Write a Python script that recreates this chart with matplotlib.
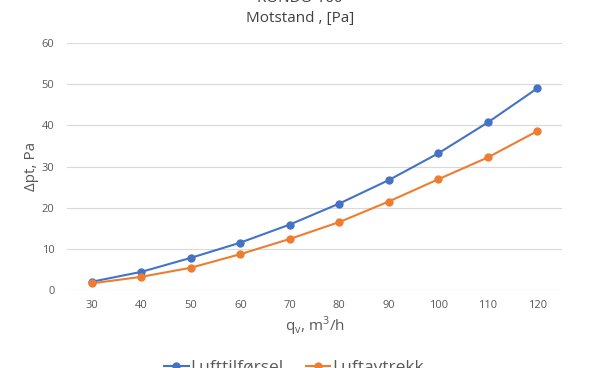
import matplotlib.pyplot as plt

# Data
flow = ['30', '40', '50', '60', '70', '80', '90', '100', '110', '120']
tilforsel = [2.0, 4.4, 7.8, 11.5, 15.9, 21.0, 26.7, 33.2, 40.7, 49.0]
avtrekk = [1.6, 3.2, 5.4, 8.7, 12.4, 16.5, 21.5, 26.9, 32.2, 38.6]
yticks = [0, 10, 20, 30, 40, 50, 60]

plt.rcParams['font.family'] = ['Open Sans', 'DejaVu Sans']
grey = '#595959'

fig = plt.figure(figsize=(6, 3.68), dpi=100)
ax = fig.add_axes([0.1117, 0.212, 0.825, 0.671])

ax.plot(flow, tilforsel, color='#4472C4', marker='o', markersize=5, linewidth=1.5, label='Lufttilførsel')
ax.plot(flow, avtrekk, color='#ED7D31', marker='o', markersize=5, linewidth=1.5, label='Luftavtrekk')

ax.set_xlim(-0.5, len(flow) - 0.5)
ax.set_ylim(0, 60)
ax.set_yticks(yticks)
ax.grid(axis='y', color='#D9D9D9', linewidth=0.8)
ax.set_axisbelow(True)
for s in ax.spines.values():
    s.set_visible(False)
ax.tick_params(length=0, colors=grey, labelsize=8)
ax.tick_params(axis='x', pad=7)
ax.tick_params(axis='y', pad=9)

ax.set_xlabel('q$_\\mathregular{v}$, m$^\\mathregular{3}$/h', fontsize=11, color=grey, labelpad=3)
ax.set_ylabel('Δpt, Pa', fontsize=11, color=grey, labelpad=2)

fig.text(0.5, 1.005, 'RONDO 160', ha='center', va='center', fontsize=11, color='#404040')
fig.text(0.5, 0.95, 'Motstand , [Pa]', ha='center', va='center', fontsize=11, color='#404040')

fig.legend(loc='center', bbox_to_anchor=(0.49, 0.0), ncol=2, frameon=False,
           fontsize=12.5, labelcolor=grey, handlelength=1.4, columnspacing=1.3, handletextpad=0.1)

fig.savefig('out.png', dpi=100)
